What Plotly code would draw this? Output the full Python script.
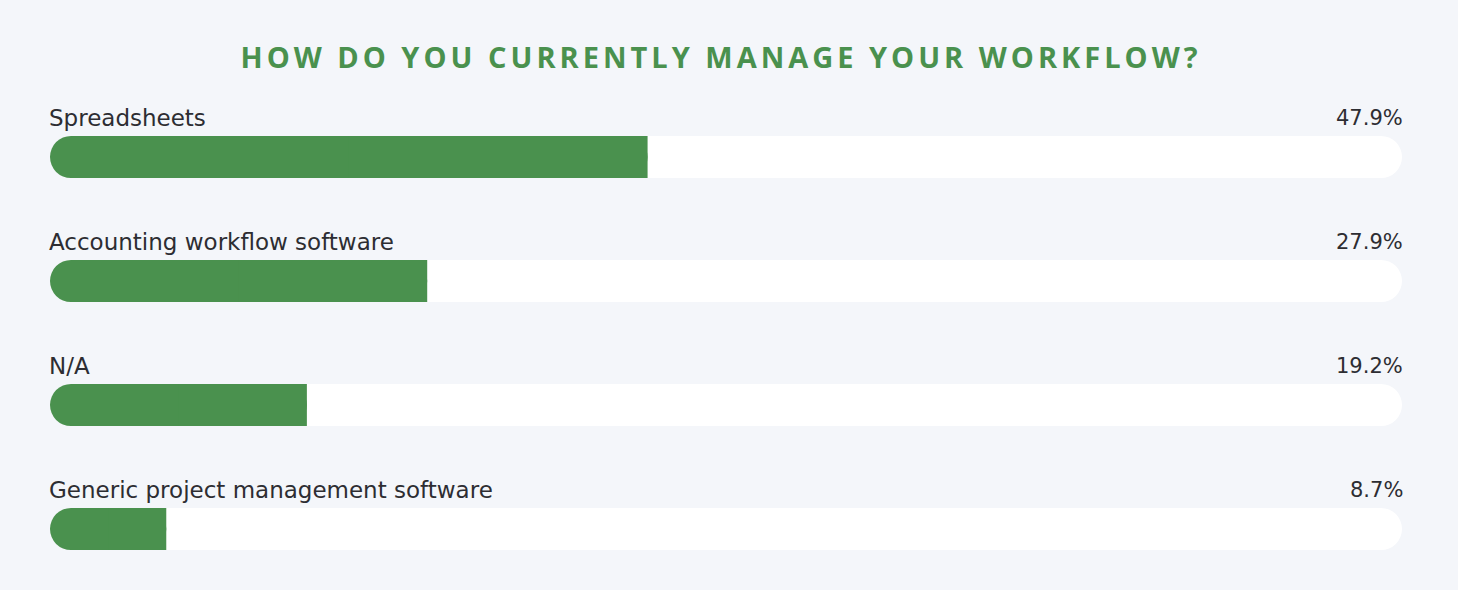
import plotly.graph_objects as go

# ---- data ----
categories = ["Spreadsheets", "Accounting workflow software", "N/A",
              "Generic project management software"]
pct_labels = ["47.9%", "27.9%", "19.2%", "8.7%"]
fill_values = [44.2, 27.9, 19.0, 8.6]      # bar lengths as drawn in the reference (%)
track_total = 100

GREEN = "#4a914e"
BG = "#f4f6fa"
TEXT = "#2d2d32"
LABEL_FONT = "DejaVu Sans"
TITLE_FONT = "Open Sans"

rows = list(range(len(categories)))
n = len(rows)
bar_w = 0.34

fig = go.Figure()

# white track, rounded at both ends
fig.add_trace(go.Bar(
    y=rows, x=[track_total] * n, base=[0] * n, orientation="h",
    width=bar_w, marker=dict(color="white", cornerradius="50%", line=dict(width=0)),
    hoverinfo="skip", showlegend=False))
# green fill, rounded
fig.add_trace(go.Bar(
    y=rows, x=fill_values, base=[0] * n, orientation="h",
    width=bar_w, marker=dict(color=GREEN, cornerradius="50%", line=dict(width=0)),
    hoverinfo="skip", showlegend=False))
# square-off the right end of the fill
fig.add_trace(go.Bar(
    y=rows, x=[v / 2 for v in fill_values], base=[v / 2 for v in fill_values],
    orientation="h", width=bar_w,
    marker=dict(color=GREEN, cornerradius=0, line=dict(width=0)),
    hoverinfo="skip", showlegend=False))

annotations = []
for r, cat, lab in zip(rows, categories, pct_labels):
    annotations.append(dict(x=0, y=r, xref="x", yref="y", text=cat, showarrow=False,
                            xanchor="left", yanchor="middle", yshift=39, xshift=-3,
                            font=dict(family=LABEL_FONT, size=23, color=TEXT)))
    annotations.append(dict(x=track_total, y=r, xref="x", yref="y", text=lab, showarrow=False,
                            xanchor="right", yanchor="middle", yshift=39, xshift=3,
                            font=dict(family=LABEL_FONT, size=21, color=TEXT)))

fig.update_layout(
    width=1458, height=590,
    paper_bgcolor=BG, plot_bgcolor=BG,
    barmode="overlay",
    margin=dict(l=50, r=56, t=95, b=30),
    xaxis=dict(range=[0, track_total], visible=False, fixedrange=True),
    yaxis=dict(range=[3.25, -0.5], visible=False, fixedrange=True),
    annotations=annotations,
    showlegend=False,
    title=dict(
        text='<span style="letter-spacing:4px"><b>HOW DO YOU CURRENTLY MANAGE YOUR WORKFLOW?</b></span>',
        x=721 / 1458, y=1 - 58 / 590, xref="container", yref="container",
        xanchor="center", yanchor="middle",
        font=dict(family=TITLE_FONT, size=29, color=GREEN)),
)

fig.write_html("out.html", config=dict(displayModeBar=False),
               post_script="document.body.style.margin='0';document.body.style.overflow='hidden';")
